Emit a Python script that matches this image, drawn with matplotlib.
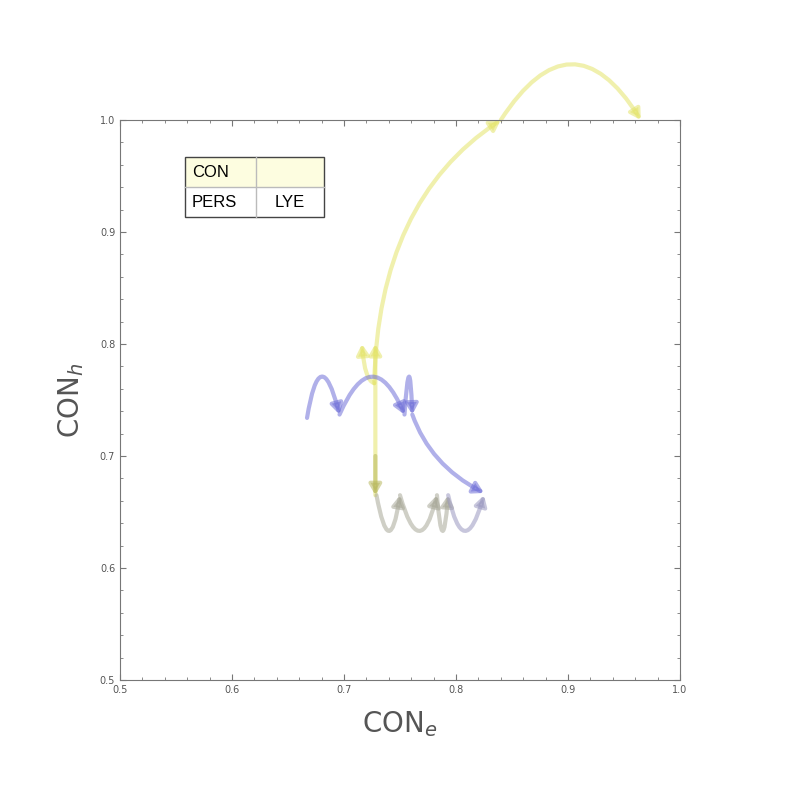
import matplotlib
matplotlib.use("Agg")
import matplotlib.pyplot as plt
from matplotlib.patches import FancyArrowPatch, Rectangle
from matplotlib.path import Path
from matplotlib.ticker import MultipleLocator

# arrows: (x0, y0, x1, y1, bulge_x, bulge_y) -- bulge = point the curve passes through mid-way
yellow_arrows = [
    (0.727, 0.765, 0.840, 1.000, 0.757, 0.905),
    (0.840, 1.000, 0.965, 1.000, 0.903, 1.049),
    (0.727, 0.765, 0.716, 0.800, 0.720, 0.775),
    (0.728, 0.665, 0.728, 0.800, 0.728, 0.735),
]
olive_arrows = [
    (0.728, 0.700, 0.728, 0.665, 0.728, 0.682),
]
gray_arrows = [
    (0.729, 0.665, 0.750, 0.665, 0.740, 0.634),
    (0.750, 0.665, 0.783, 0.665, 0.767, 0.634),
    (0.783, 0.665, 0.793, 0.665, 0.788, 0.634),
]
bluegray_arrows = [
    (0.793, 0.665, 0.825, 0.665, 0.808, 0.634),
]
blue_arrows = [
    (0.667, 0.734, 0.696, 0.737, 0.680, 0.770),
    (0.696, 0.737, 0.754, 0.737, 0.725, 0.770),
    (0.754, 0.737, 0.761, 0.737, 0.758, 0.770),
    (0.761, 0.737, 0.825, 0.667, 0.785, 0.697),
]
table_rows = [["CON", ""], ["PERS", "LYE"]]

fig = plt.figure(figsize=(8, 8), dpi=100)
ax = fig.add_axes([0.15, 0.15, 0.7, 0.7])
ax.set_xlim(0.5, 1.0)
ax.set_ylim(0.5, 1.0)

def draw(arrs, color, alpha=0.55):
    for x0, y0, x1, y1, bx, by in arrs:
        cx = 2 * bx - (x0 + x1) / 2
        cy = 2 * by - (y0 + y1) / 2
        p = Path([(x0, y0), (cx, cy), (x1, y1)], [Path.MOVETO, Path.CURVE3, Path.CURVE3])
        a = FancyArrowPatch(path=p, arrowstyle="-|>,head_length=6,head_width=3.5",
                            color=color, lw=3, alpha=alpha, clip_on=False,
                            transform=ax.transData)
        ax.add_patch(a)

draw(yellow_arrows, "#e4e46a")
draw(olive_arrows, "#b8b860")
draw(gray_arrows, "#a8a898")
draw(bluegray_arrows, "#9a98c0")
draw(blue_arrows, "#6f6fd8")

ticks = [0.5, 0.6, 0.7, 0.8, 0.9, 1.0]
ax.set_xticks(ticks)
ax.set_yticks(ticks)
ax.set_xticklabels([f"{t:.1f}" for t in ticks])
ax.set_yticklabels([f"{t:.1f}" for t in ticks])
ax.xaxis.set_minor_locator(MultipleLocator(0.02))
ax.yaxis.set_minor_locator(MultipleLocator(0.02))
ax.tick_params(which="both", direction="in", top=True, right=True, colors="#777777",
               labelsize=7, labelcolor="#555555")
ax.tick_params(which="major", length=4)
ax.tick_params(which="minor", length=2)
for s in ax.spines.values():
    s.set_color("#777777")
ax.set_xlabel("CON$_e$", fontsize=20, color="#555555", labelpad=10)
ax.set_ylabel("CON$_h$", fontsize=20, color="#555555", labelpad=10)

# legend table
x0, xm, x1 = 0.116, 0.243, 0.364
ys = [0.934, 0.880, 0.827]
ax.add_patch(Rectangle((x0, ys[1]), x1 - x0, ys[0] - ys[1], transform=ax.transAxes,
                       facecolor="#fdfde0", edgecolor="none"))
ax.plot([x0, x1], [ys[1], ys[1]], transform=ax.transAxes, color="#bbbbbb", lw=1)
ax.plot([xm, xm], [ys[0], ys[2]], transform=ax.transAxes, color="#bbbbbb", lw=1)
ax.add_patch(Rectangle((x0, ys[2]), x1 - x0, ys[0] - ys[2], transform=ax.transAxes,
                       facecolor="none", edgecolor="#444444", lw=1))
for r, row in enumerate(table_rows):
    yc = (ys[r] + ys[r + 1]) / 2
    ax.text(x0 + 0.012, yc, row[0], transform=ax.transAxes, va="center", ha="left",
            fontsize=12, family="Liberation Sans")
    ax.text((xm + x1) / 2, yc, row[1], transform=ax.transAxes, va="center", ha="center",
            fontsize=12, family="Liberation Sans")

fig.savefig("out.png", dpi=100)
